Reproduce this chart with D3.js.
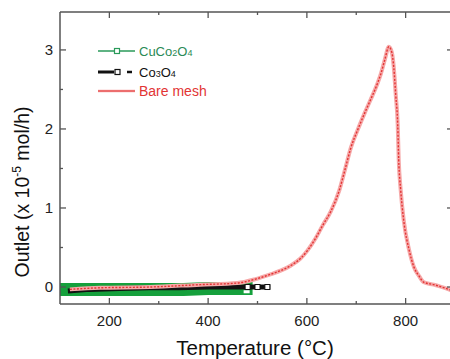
<!DOCTYPE html>
<html>
<head>
<meta charset="utf-8">
<script src="https://cdn.jsdelivr.net/npm/d3@7"></script>
<style>
  html, body { margin: 0; padding: 0; background: #fff; }
  svg { display: block; font-family: "Liberation Sans", Arial, sans-serif; }
</style>
</head>
<body>
<svg id="chart" width="450" height="359"></svg>
<script>
// temperature (°C) / outlet (x 1e-5 mol/h)
const bareTemp = [120, 181, 283, 384, 459, 496, 526, 548, 567, 587, 601, 618, 632, 648, 666, 677, 689, 703, 717, 729, 742, 750, 758, 766, 772, 776, 780, 784, 786, 790, 796, 807, 817, 827, 837, 857, 892];
const bareVal  = [-0.03, -0.01, 0.0, 0.03, 0.05, 0.10, 0.16, 0.21, 0.27, 0.36, 0.46, 0.62, 0.78, 0.95, 1.23, 1.48, 1.76, 1.99, 2.20, 2.37, 2.56, 2.70, 2.88, 3.04, 2.97, 2.78, 2.43, 2.05, 1.61, 1.23, 0.85, 0.47, 0.25, 0.14, 0.06, 0.03, -0.04];

const cuTemp = [100, 150, 200, 250, 300, 350, 400, 450, 490];
const cuVal  = [-0.03, -0.03, -0.03, -0.03, -0.03, -0.03, -0.02, -0.02, -0.02];

const coTemp = [116, 160, 220, 280, 340, 400, 460, 500, 526];
const coVal  = [-0.05, -0.03, -0.02, -0.01, -0.01, 0.0, 0.0, 0.0, 0.0];
const coMarkT = [480, 500, 520];

const xTicks = [200, 400, 600, 800];
const xMinor = [300, 500, 700];
const yTicks = [0, 1, 2, 3];
const yMinor = [0.5, 1.5, 2.5];

const legendNames = ["CuCo2O4", "Co3O4", "Bare mesh"];

const svg = d3.select("#chart");
const x = d3.scaleLinear().domain([100, 900]).range([60, 455]);
const y = d3.scaleLinear().domain([-0.215, 3.48]).range([304, 12]);

const axisColor = "#555";

const plot = svg.append("g");
plot.append("clipPath").attr("id", "clip")
  .append("rect").attr("x", 60).attr("y", 12).attr("width", 395).attr("height", 292);
const series = plot.append("g").attr("clip-path", "url(#clip)");

const line = d3.line().x(d => x(d[0])).y(d => y(d[1]));

// CuCo2O4: thick green band
const cuData = d3.zip(cuTemp, cuVal);
series.append("path").datum(cuData)
  .attr("d", line).attr("fill", "none")
  .attr("stroke", "#15a03c").attr("stroke-width", 13);

// Co3O4: thick black line
const coData = d3.zip(coTemp, coVal);
series.append("path").datum(coData)
  .attr("d", line).attr("fill", "none")
  .attr("stroke", "#111").attr("stroke-width", 5);
series.selectAll(".comark").data(coMarkT).enter().append("rect")
  .attr("x", d => x(d) - 2.5).attr("y", y(0) - 2.5)
  .attr("width", 5).attr("height", 5)
  .attr("fill", "#fff").attr("stroke", "#111").attr("stroke-width", 1);
series.append("rect")
  .attr("x", x(478) - 3).attr("y", y(-0.06) - 1.5)
  .attr("width", 6).attr("height", 3).attr("fill", "#fff");

// Bare mesh: red line with pale marker halo
const bareData = d3.zip(bareTemp, bareVal);
const curve = d3.line().x(d => x(d[0])).y(d => y(d[1])).curve(d3.curveMonotoneX);
series.append("path").datum(bareData)
  .attr("d", curve).attr("fill", "none")
  .attr("stroke", "#f6a9a9").attr("stroke-width", 4);
series.append("path").datum(bareData)
  .attr("d", curve).attr("fill", "none")
  .attr("stroke", "#e23434").attr("stroke-width", 1.4)
  .attr("stroke-dasharray", "2,1.5");

// frame
const frame = svg.append("g").attr("stroke", axisColor).attr("stroke-width", 1.5);
frame.append("line").attr("x1", 60).attr("x2", 60).attr("y1", 12).attr("y2", 304);
frame.append("line").attr("x1", 60).attr("x2", 455).attr("y1", 304).attr("y2", 304);
frame.append("line").attr("x1", 60).attr("x2", 455).attr("y1", 12).attr("y2", 12);
frame.append("line").attr("x1", 453).attr("x2", 453).attr("y1", 12).attr("y2", 304);

// ticks (inward, mirrored)
const tickG = svg.append("g").attr("stroke", axisColor).attr("stroke-width", 1.3);
xTicks.forEach(t => {
  tickG.append("line").attr("x1", x(t)).attr("x2", x(t)).attr("y1", 304).attr("y2", 298);
  tickG.append("line").attr("x1", x(t)).attr("x2", x(t)).attr("y1", 12).attr("y2", 18);
});
xMinor.forEach(t => {
  tickG.append("line").attr("x1", x(t)).attr("x2", x(t)).attr("y1", 304).attr("y2", 301);
  tickG.append("line").attr("x1", x(t)).attr("x2", x(t)).attr("y1", 12).attr("y2", 15);
});
yTicks.forEach(t => {
  tickG.append("line").attr("x1", 60).attr("x2", 66).attr("y1", y(t)).attr("y2", y(t));
  tickG.append("line").attr("x1", 453).attr("x2", 447).attr("y1", y(t)).attr("y2", y(t));
});
yMinor.forEach(t => {
  tickG.append("line").attr("x1", 60).attr("x2", 63).attr("y1", y(t)).attr("y2", y(t));
  tickG.append("line").attr("x1", 453).attr("x2", 450).attr("y1", y(t)).attr("y2", y(t));
});

// tick labels
svg.append("g").selectAll("text").data(xTicks).enter().append("text")
  .attr("x", d => x(d)).attr("y", 326)
  .attr("text-anchor", "middle").attr("font-size", 15).attr("fill", "#222")
  .text(d => d);
svg.append("g").selectAll("text").data(yTicks).enter().append("text")
  .attr("x", 53).attr("y", d => y(d) + 5)
  .attr("text-anchor", "end").attr("font-size", 15).attr("fill", "#222")
  .text(d => d);

// axis titles
svg.append("text")
  .attr("x", 255).attr("y", 355)
  .attr("text-anchor", "middle").attr("font-size", 20.5).attr("fill", "#111")
  .html("Temperature (<tspan>&#176;</tspan>C)");

const yl = svg.append("text")
  .attr("transform", "translate(29,192) rotate(-90)")
  .attr("text-anchor", "middle").attr("font-size", 19.5).attr("fill", "#111");
yl.append("tspan").text("Outlet (x 10");
yl.append("tspan").attr("dy", -8).attr("font-size", 12).text("-5");
yl.append("tspan").attr("dy", 8).text(" mol/h)");

// legend
const leg = svg.append("g").attr("font-size", 13);
function chem(g, name, color) {
  const t = g.append("text").attr("x", 139).attr("y", 4.5).attr("fill", color);
  name.match(/[A-Za-z]+|\d+/g).forEach(p => {
    if (/\d/.test(p)) t.append("tspan").attr("font-size", 9).text(p);
    else t.append("tspan").text(p);
  });
}
const g1 = leg.append("g").attr("transform", "translate(0,51)");
g1.append("line").attr("x1", 98).attr("x2", 135).attr("stroke", "#2a9a5a").attr("stroke-width", 1.5);
g1.append("rect").attr("x", 114.5).attr("y", -2.5).attr("width", 5).attr("height", 5)
  .attr("fill", "#fff").attr("stroke", "#2a9a5a").attr("stroke-width", 1.2);
chem(g1, legendNames[0], "#2a8a55");

const g2 = leg.append("g").attr("transform", "translate(0,72)");
g2.append("line").attr("x1", 98).attr("x2", 114).attr("stroke", "#111").attr("stroke-width", 3);
g2.append("rect").attr("x", 115).attr("y", -2.5).attr("width", 5).attr("height", 5)
  .attr("fill", "#fff").attr("stroke", "#111").attr("stroke-width", 1.2);
g2.append("line").attr("x1", 127).attr("x2", 132).attr("stroke", "#111").attr("stroke-width", 2.5);
chem(g2, legendNames[1], "#111");

const g3 = leg.append("g").attr("transform", "translate(0,91)");
g3.append("line").attr("x1", 98).attr("x2", 135).attr("stroke", "#f6a9a9").attr("stroke-width", 2.5);
g3.append("line").attr("x1", 98).attr("x2", 135).attr("stroke", "#e23434").attr("stroke-width", 1);
g3.append("text").attr("x", 139).attr("y", 4.5).attr("font-size", 14).attr("fill", "#e23434").text(legendNames[2]);
</script>
</body>
</html>
